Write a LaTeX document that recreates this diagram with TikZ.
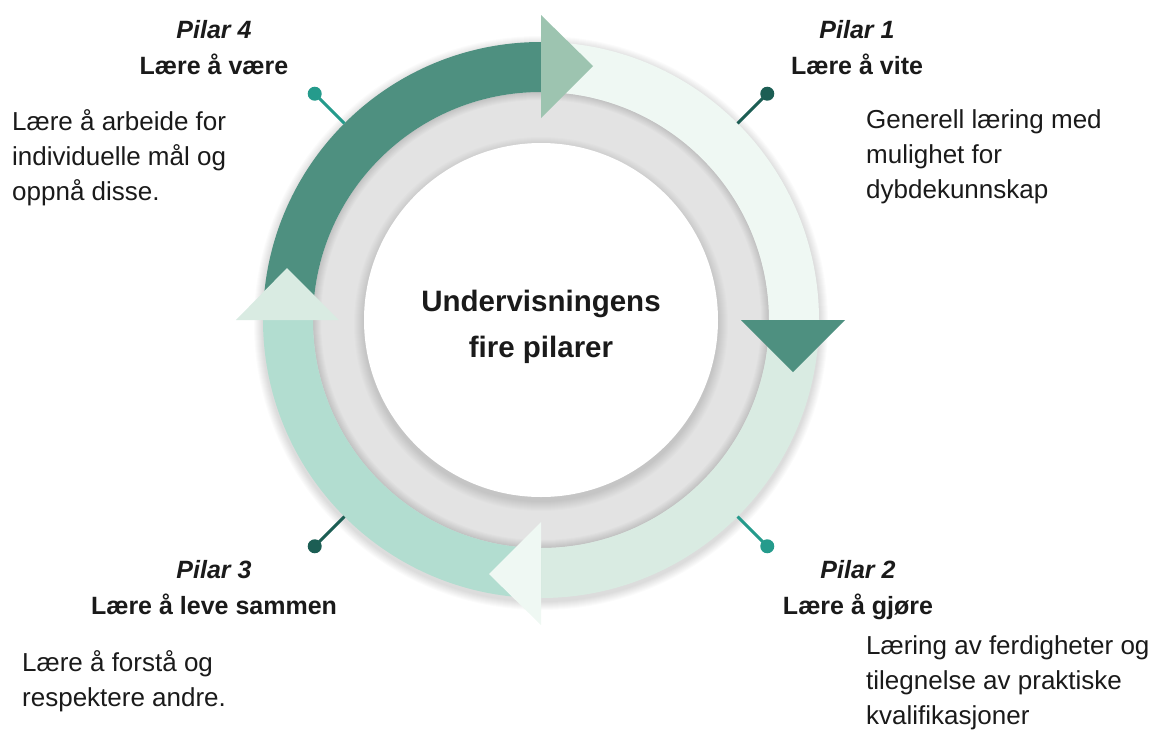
\documentclass[tikz,border=0pt]{standalone}
\usepackage{fontspec}
\setmainfont{Liberation Sans}
\usepackage{tikz}
\usetikzlibrary{positioning,calc}
\definecolor{pillar dark}{HTML}{4E9080}
\definecolor{pillar sage}{HTML}{9DC4B0}
\definecolor{pillar pale}{HTML}{EFF8F3}
\definecolor{pillar light}{HTML}{D9EBE2}
\definecolor{pillar mint}{HTML}{B2DDD0}
\definecolor{pin dark}{HTML}{1C5E54}
\definecolor{pin teal}{HTML}{259B8C}
\definecolor{ring gray}{HTML}{E3E3E3}
\definecolor{ink}{HTML}{1A1A1A}
% one quarter of the coloured band: colour, start angle, end angle
\newcommand{\pillarband}[3]{%
	\fill[#1] (#2:278pt) arc[start angle=#2, end angle=#3, radius=278pt]
		-- (#3:228pt) arc[start angle=#3, end angle=#2, radius=228pt] -- cycle;
}
\tikzset{
	pillar wheel/.style={
		x=1pt,y=1pt,
		text=ink,
		tip/.style={fill=##1},
		pin line/.style={line width=3pt,draw=##1},
		pin dot/.style={
			circle,
			fill=##1,
			inner sep=0pt,
			minimum size=14pt
		}
	},
	pillar head/.style={
		align=center,
		anchor=north,
		inner sep=0pt,
		font=\bfseries\fontsize{25}{36}\selectfont
	},
	pillar text/.style={
		align=left,
		anchor=north west,
		inner sep=0pt,
		font=\fontsize{26}{35}\selectfont
	},
	wheel title/.style={
		align=center,
		inner sep=0pt,
		font=\bfseries\fontsize{29.5}{46}\selectfont
	}
}

\begin{document}
\begin{tikzpicture}[pillar wheel]
	\useasboundingbox (-541,-412) rectangle (612,320);
	% shadows and grey ring
	\foreach \r in {279,...,287}
		\fill[black,opacity=0.015] (0,-3) circle[radius=\r pt];
	\fill[ring gray] (0,0) circle[radius=228pt];
	\foreach \r in {220,...,227}
		\fill[black,opacity=0.015,even odd rule] (0,0) circle[radius=228pt] circle[radius=\r pt];
	\foreach \r in {178,...,187}
		\fill[black,opacity=0.01] (0,-4) circle[radius=\r pt];
	\fill[white] (0,0) circle[radius=177pt];
	% band
	\pillarband{pillar dark}{180}{90}
	\pillarband{pillar pale}{90}{0}
	\pillarband{pillar light}{0}{-90}
	\pillarband{pillar mint}{-90}{-180}
	% arrow tips
	\fill[tip=pillar sage] (0,305) -- (0,202) -- (52,254) -- cycle;
	\fill[tip=pillar dark] (304,0) -- (200,0) -- (252,-52) -- cycle;
	\fill[tip=pillar pale] (0,-202) -- (0,-305) -- (-52,-254) -- cycle;
	\fill[tip=pillar light] (-305,0) -- (-202,0) -- (-254,52) -- cycle;
	% pins
	\coordinate (pin1 foot) at (45:278pt);
	\coordinate (pin2 foot) at (-45:278pt);
	\coordinate (pin3 foot) at (-135:278pt);
	\coordinate (pin4 foot) at (135:278pt);
	\node[pin dot=pin dark] (pin1) at (45:320pt) {};
	\node[pin dot=pin teal] (pin2) at (-45:320pt) {};
	\node[pin dot=pin dark] (pin3) at (-135:320pt) {};
	\node[pin dot=pin teal] (pin4) at (135:320pt) {};
	\draw[pin line=pin dark] (pin1 foot) -- (pin1.center);
	\draw[pin line=pin teal] (pin2 foot) -- (pin2.center);
	\draw[pin line=pin dark] (pin3 foot) -- (pin3.center);
	\draw[pin line=pin teal] (pin4 foot) -- (pin4.center);
	% texts
	\node[wheel title] (title) at (0,-7) {Undervisningens\\fire pilarer};
	\node[pillar head] (head1) at (316,300) {\textit{Pilar 1}\\Lære å vite};
	\node[pillar head] (head2) at (317,-240) {\textit{Pilar 2}\\Lære å gjøre};
	\node[pillar head] (head3) at (-327,-240) {\textit{Pilar 3}\\Lære å leve sammen};
	\node[pillar head] (head4) at (-327,300) {\textit{Pilar 4}\\Lære å være};
	\node[pillar text] (text1) at (325,211) {Generell læring med\\mulighet for\\dybdekunnskap};
	\node[pillar text] (text2) at (325,-315) {Læring av ferdigheter og\\tilegnelse av praktiske\\kvalifikasjoner};
	\node[pillar text] (text3) at (-519,-330) {Lære å forstå og\\respektere andre.};
	\node[pillar text] (text4) at (-529,211) {Lære å arbeide for\\individuelle mål og\\oppnå disse.};
\end{tikzpicture}
\end{document}
